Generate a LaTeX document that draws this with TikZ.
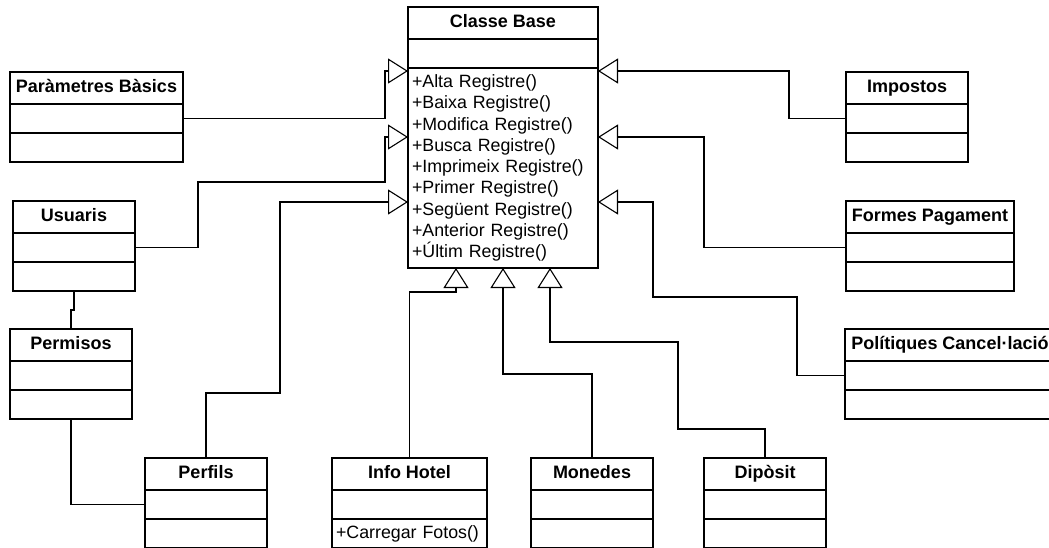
\documentclass[tikz,border=0pt]{standalone}
\usepackage{fontspec}
\setmainfont{Liberation Sans}
\usetikzlibrary{arrows.meta, positioning}

% class box: [methods height]{name}{(x,y)}{width}{title}{methods}
\newcommand{\umlclass}[6][29]{%
  \node[hdr, minimum width=#4pt, anchor=north west] (#2) at #3 {#5};
  \node[cmp, minimum width=#4pt, below=0pt of #2] (#2-a) {};
  \pgfmathsetmacro{\clsw}{#4-8}
  \node[cmp, minimum width=#4pt, minimum height=#1pt, text width=\clsw pt, below=0pt of #2-a] (#2-m) {#6};
}

\begin{document}
\begin{tikzpicture}[x=1pt, y=-1pt,
  hdr/.style={draw, line width=1.5pt, inner sep=0pt, outer sep=0pt, minimum height=32pt,
              text height=13pt, text depth=3.5pt,
              font=\bfseries\fontsize{18}{21}\selectfont},
  cmp/.style={draw, line width=1.5pt, inner xsep=4pt, inner ysep=0pt, outer sep=0pt,
              minimum height=29pt, align=left, font=\fontsize{17.8}{21.3}\selectfont},
  gen/.style={line width=1.1pt, -{Triangle[open, length=20pt, width=25pt]}},
  rel/.style={line width=1.1pt}]
\clip (0,0) rectangle (1049,548);

\umlclass[200]{base}{(408,7)}{190}{Classe Base}{+Alta Registre()\\+Baixa Registre()\\+Modifica Registre()\\+Busca Registre()\\+Imprimeix Registre()\\+Primer Registre()\\+Següent Registre()\\+Anterior Registre()\\+Últim Registre()}
\umlclass{par}{(10,72)}{173}{Paràmetres Bàsics}{}
\umlclass{usu}{(13,201)}{122}{Usuaris}{}
\umlclass{perm}{(10,329)}{122}{Permisos}{}
\umlclass{perf}{(145,458)}{122}{Perfils}{}
\umlclass{info}{(332,458)}{155}{Info Hotel}{+Carregar Fotos()}
\umlclass{mon}{(531,458)}{122}{Monedes}{}
\umlclass{dip}{(704,458)}{122}{Dipòsit}{}
\umlclass{imp}{(846,72)}{122}{Impostos}{}
\umlclass{form}{(846,201)}{168}{Formes Pagament}{}
\umlclass{pol}{(845,329)}{210}{Polítiques Cancel·lació}{}

\path coordinate (t1) at (408,71) coordinate (t2) at (408,137) coordinate (t3) at (408,202)
      coordinate (t4) at (598,71) coordinate (t5) at (598,137) coordinate (t6) at (598,202)
      coordinate (t7) at (456,268) coordinate (t8) at (503,268) coordinate (t9) at (550,268);

\draw[gen] (par-a.east) -| (385,71) -- (t1);
\draw[gen] (usu-a.east) -| (198,182) -| (385,137) -- (t2);
\draw[gen] (perf.north) |- (280,393) |- (t3);
\draw[gen] (info.north) |- (456,292) -- (t7);
\draw[gen] (mon.north) |- (503,374) -- (t8);
\draw[gen] (dip.north) |- (678,429) |- (550,342) -- (t9);
\draw[gen] (imp-a.west) -| (789,71) -- (t4);
\draw[gen] (form-a.west) -| (704,137) -- (t5);
\draw[gen] (pol-a.west) -| (797,297) -| (653,202) -- (t6);
\draw[rel] (usu-m.south) -- ++(0,19) -| (perm.north);
\draw[rel] (perm-m.south) |- (perf-a.west);
\end{tikzpicture}
\end{document}
